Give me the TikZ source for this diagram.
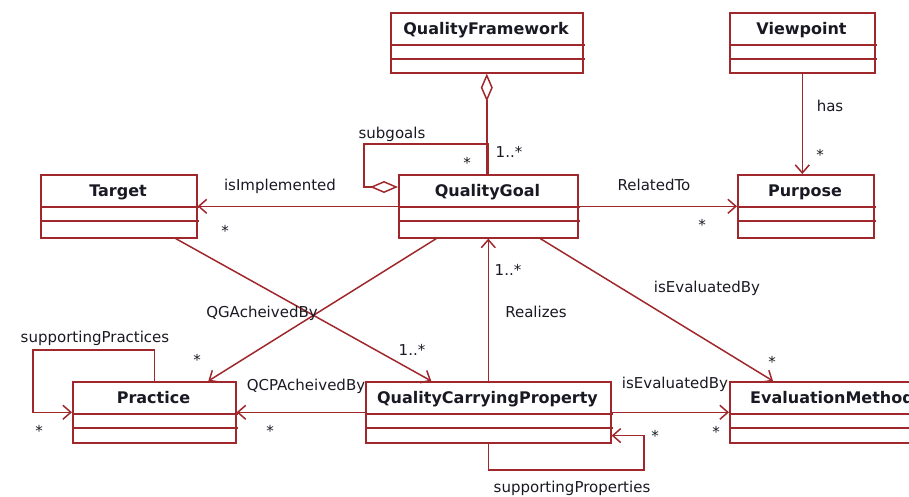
\documentclass[tikz,border=0pt]{standalone}
\usepackage{fontspec}
\setmainfont{DejaVu Sans}
\usetikzlibrary{arrows.meta}
\definecolor{umlred}{RGB}{160,40,45}
\definecolor{umltext}{RGB}{25,25,35}
\tikzset{
  clsbox/.style={draw=umlred, line width=1.6pt, anchor=north west, inner sep=0pt},
  clsname/.style={font=\fontsize{16}{19}\selectfont\bfseries, text=umltext, inner sep=0pt, text height=12pt, text depth=4pt},
  lbl/.style={font=\fontsize{15}{18}\selectfont, text=umltext, inner sep=0pt, text height=11pt, text depth=3pt},
  assoc/.style={draw=umlred, line width=1.5pt, -{Straight Barb[length=8pt,width=14pt,line width=1.5pt]}},
  aggr/.style={draw=umlred, line width=1.5pt, {Diamond[fill=white,length=28pt,width=12pt,line width=1.5pt]}-},
}
% class box: name, left, top, right, bottom, title
\newcommand{\umlclass}[6]{%
  \node[clsbox, minimum width={#4-#2}, minimum height={#5-#3}] (#1) at (#2,#3) {};
  \node[clsname] (#1-name) at ({(#2+#4)/2},{#3+18}) {#6};
  \draw[umlred, line width=1.6pt] (#2,#3+33) -- (#4+3,#3+33) (#2,#3+47) -- (#4+3,#3+47);
}
\begin{document}
\begin{tikzpicture}[x=1pt,y=-1pt]
\useasboundingbox (0,0) rectangle (909,496);
\clip (0,0) rectangle (909,496);
% classes
\umlclass{qf}{390}{12}{582}{72}{QualityFramework}
\umlclass{vp}{729}{12}{874}{72}{Viewpoint}
\umlclass{tg}{40}{174}{196}{237}{Target}
\umlclass{qg}{398}{174}{577}{237}{QualityGoal}
\umlclass{pu}{737}{174}{873}{237}{Purpose}
\umlclass{pr}{72}{381}{235}{442}{Practice}
\umlclass{qcp}{365}{381}{610}{442}{QualityCarryingProperty}
\umlclass{em}{729}{381}{935}{442}{EvaluationMethod}
% loop corners
\coordinate (sg) at (364,144);
\coordinate (spc) at (33,350);
\coordinate (spp) at (644,470);
% associations
\draw[aggr] (qf.south) -- (qf.south |- qg.north);
\draw[aggr] ([yshift=-13pt]qg.north west) -| (sg) -| (qg.north);
\draw[assoc] (qg.west) -- (tg.east);
\draw[assoc] (qg.east) -- (pu.west);
\draw[assoc] (vp.south) -- (vp.south |- pu.north);
\draw[assoc] ([xshift=-52pt]qg.south) -- ([xshift=54pt]pr.north);
\draw[assoc] ([xshift=57pt]tg.south) -- ([xshift=-57pt]qcp.north);
\draw[assoc] (qcp.north) -- (qcp.north |- qg.south);
\draw[assoc] ([xshift=52pt]qg.south) -- ([xshift=44pt]em.north west);
\draw[assoc] (qcp.east) -- (em.west);
\draw[assoc] (qcp.west) -- (pr.east);
\draw[assoc] (pr.north) |- (spc) |- (pr.west);
\draw[assoc] (qcp.south) |- (spp) |- ([yshift=8pt]qcp.south east);
% role names
\node[lbl] (l-subgoals) at (392,134) {subgoals};
\node[lbl] (l-impl) at (280,186) {isImplemented};
\node[lbl] (l-rel) at (654,186) {RelatedTo};
\node[lbl] (l-has) at (830,107) {has};
\node[lbl] (l-qgach) at (262,313) {QGAcheivedBy};
\node[lbl] (l-real) at (536,313) {Realizes};
\node[lbl] (l-evalqg) at (707,288) {isEvaluatedBy};
\node[lbl] (l-evalqcp) at (675,384) {isEvaluatedBy};
\node[lbl] (l-qcpach) at (306,386) {QCPAcheivedBy};
\node[lbl] (l-suppr) at (95,338) {supportingPractices};
\node[lbl] (l-supqcp) at (572,488) {supportingProperties};
% multiplicities
\node[lbl] (m-qf) at (509,153) {1..*};
\node[lbl] (m-real) at (508,271) {1..*};
\node[lbl] (m-tg) at (412,351) {1..*};
\node[lbl] (m-sg) at (467,164) {*};
\node[lbl] (m-impl) at (225,232) {*};
\node[lbl] (m-rel) at (702,226) {*};
\node[lbl] (m-has) at (820,156) {*};
\node[lbl] (m-qgach) at (197,361) {*};
\node[lbl] (m-evalqg) at (772,363) {*};
\node[lbl] (m-qcpach) at (270,432) {*};
\node[lbl] (m-suppr) at (39,432) {*};
\node[lbl] (m-evalqcp) at (716,433) {*};
\node[lbl] (m-supqcp) at (655,437) {*};
\end{tikzpicture}
\end{document}
